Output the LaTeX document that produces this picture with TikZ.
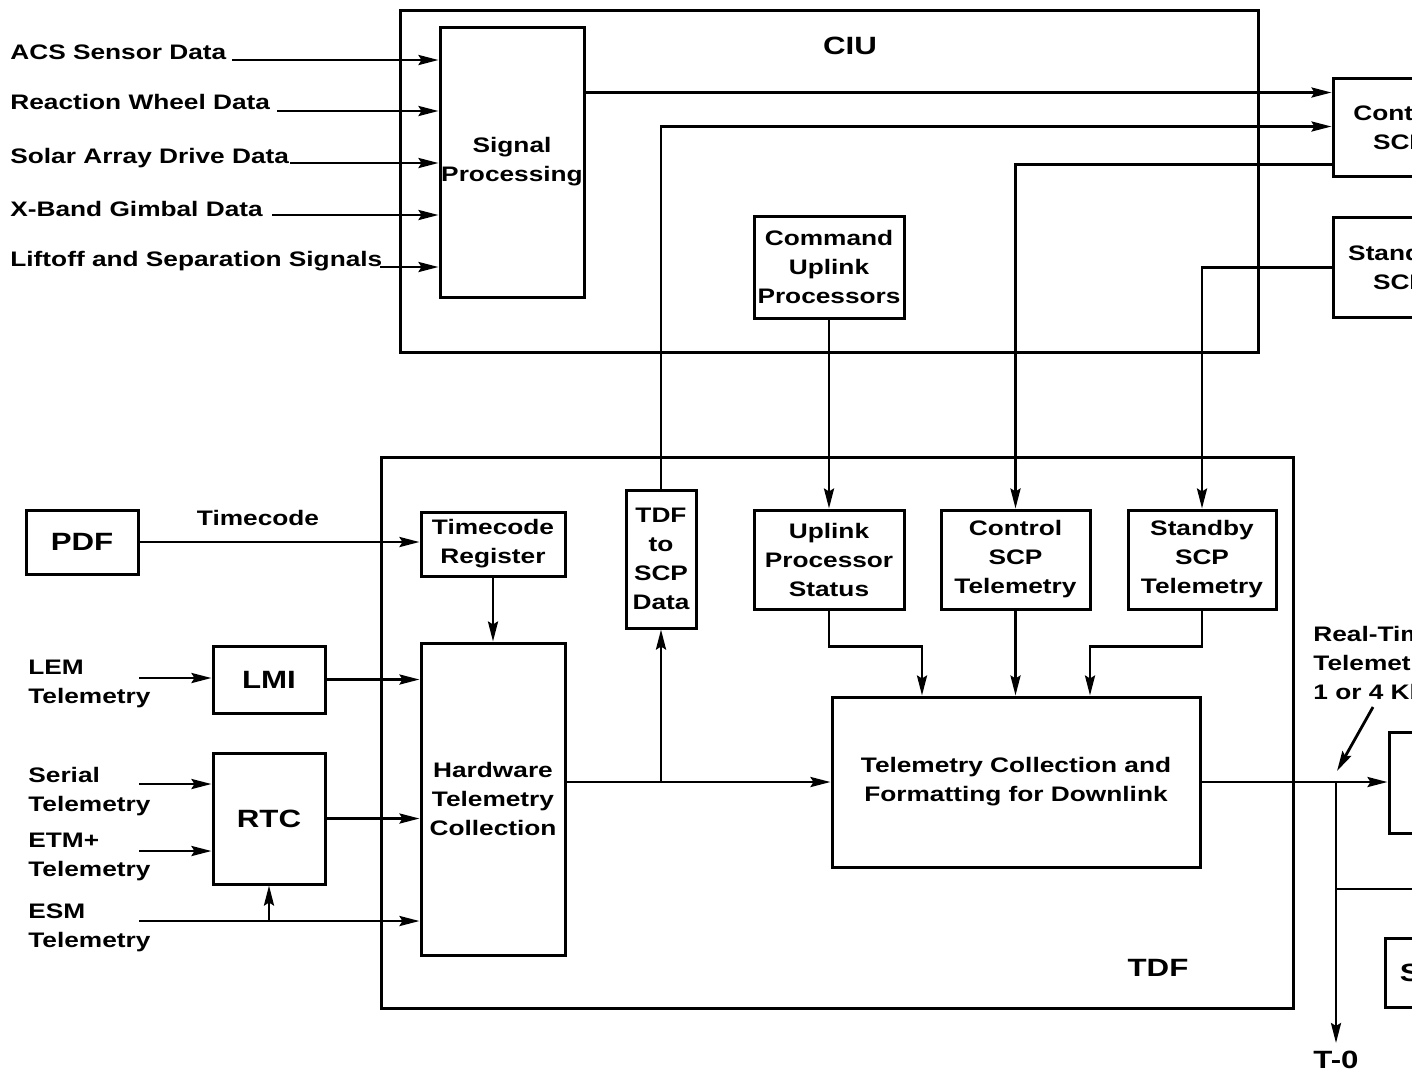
\documentclass[tikz,border=0pt]{standalone}
\usepackage{fontspec}
\setmainfont{Liberation Sans}[FakeStretch=1.25]
\usepackage{tikz}
\usetikzlibrary{arrows.meta}
\tikzstyle{block} = [rectangle, draw=black, line width=1.5pt, align=center, inner sep=0pt]
\tikzstyle{big} = [font=\bfseries\fontsize{12.5}{15}\selectfont]
\tikzstyle{sigtext} = [anchor=north west, align=left, inner sep=0pt]
\tikzstyle{intext} = [anchor=base west, inner sep=0pt]
\tikzstyle{arrow} = [line width=1.4pt,-{Stealth[length=10pt,width=5pt,inset=1.5pt]}]
\tikzstyle{wire} = [line width=1.4pt]

\begin{document}
\begin{tikzpicture}[x=0.5pt, y=-0.5pt, every node/.style={font=\bfseries\fontsize{10.5}{14.5}\selectfont}]

	\useasboundingbox (0,0) rectangle (1412,1084);
	\clip (0,0) rectangle (1412,1084);

	% CIU
	\node (ciu) [block, minimum width=429pt, minimum height=171pt] at (829,181) {};
	\node (ciutitle) [big] at (850,46) {CIU};
	\node (sigproc) [block, minimum width=72pt, minimum height=135pt] at (512,162) {Signal\\Processing};
	\node (cmdup) [block, minimum width=75pt, minimum height=51pt] at (829,267) {Command\\Uplink\\Processors};
	\node (ctrlscp) [block, minimum width=67pt, minimum height=49pt] at (1400,127) {Control\\SCP};
	\node (stbyscp) [block, minimum width=67pt, minimum height=50pt] at (1400,267.5) {Standby\\SCP};

	\node (acs) [intext] at (10,59) {ACS Sensor Data};
	\node (rwd) [intext] at (10,109) {Reaction Wheel Data};
	\node (sad) [intext] at (10,163) {Solar Array Drive Data};
	\node (xgd) [intext] at (10,216) {X-Band Gimbal Data};
	\node (lss) [intext] at (10,266) {Liftoff and Separation Signals};
	\coordinate (acsin) at (232,60);
	\coordinate (rwdin) at (277,111);
	\coordinate (sadin) at (290,163);
	\coordinate (xgdin) at (272,215);
	\coordinate (lssin) at (380,267);
	\foreach \c in {acsin, rwdin, sadin, xgdin, lssin}
		\draw [arrow] (\c) -- (\c -| sigproc.west);

	% TDF
	\node (tdf) [block, minimum width=456pt, minimum height=275.5pt] at (837,732.5) {};
	\node (tdftitle) [big] at (1158,968) {TDF};
	\node (tcreg) [block, minimum width=72pt, minimum height=32pt] at (493,544) {Timecode\\Register};
	\node (hwtc) [block, minimum width=72pt, minimum height=156pt] at (493,799) {Hardware\\Telemetry\\Collection};
	\node (tdf2scp) [block, minimum width=35pt, minimum height=69pt] at (661,559) {TDF\\to\\SCP\\Data};
	\node (upstat) [block, minimum width=75pt, minimum height=49.5pt] at (829,559.5) {Uplink\\Processor\\Status};
	\node (ctrltlm) [block, minimum width=74.5pt, minimum height=49.5pt] at (1015.5,559.5) {Control\\SCP\\Telemetry};
	\node (stbytlm) [block, minimum width=74pt, minimum height=49.5pt] at (1202,559.5) {Standby\\SCP\\Telemetry};
	\node (tcf) [block, minimum width=184pt, minimum height=85pt] at (1016,782) {Telemetry Collection and\\Formatting for Downlink};

	% sources
	\node (pdf) [block, big, minimum width=56pt, minimum height=32pt] at (82,542) {PDF};
	\node (timecode) [anchor=base, inner sep=0pt] at (258,525) {Timecode};
	\node (lmi) [block, big, minimum width=56pt, minimum height=33.5pt] at (269,679.5) {LMI};
	\node (rtc) [block, big, minimum width=56pt, minimum height=65.5pt] at (269,818.5) {RTC};
	\node (lem) [sigtext] at (28,660) {LEM\\Telemetry};
	\node (ser) [sigtext] at (28,767) {Serial\\Telemetry};
	\node (etm) [sigtext] at (28,833) {ETM+\\Telemetry};
	\node (esm) [sigtext] at (28,903) {ESM\\Telemetry};
	\coordinate (lemin) at (139,678);
	\coordinate (serin) at (139,784);
	\coordinate (etmin) at (139,851);
	\coordinate (esmin) at (139,921);

	% downlink side
	\node (xmit) [block, minimum width=66pt, minimum height=50.5pt] at (1455,782.5) {};
	\node (ssr) [block, big, minimum width=47pt, minimum height=34.5pt] at (1432,972.5) {SSR};
	\node (t0) [big, anchor=north, inner sep=0pt] at (1336,1051) {T-0};
	\node (rttext) [sigtext] at (1313,626) {Real-Time\\Telemetry\\1 or 4 Kbps};
	\coordinate (rttail) at (1373,707);
	\coordinate (rthead) at (1337,771);
	\coordinate (ssrfeed) at (1420,889);

	\coordinate (csin1) at ([yshift=-8pt]ctrlscp.north west);
	\coordinate (csin2) at ([yshift=-25pt]ctrlscp.north west);
	\coordinate (csout) at ([yshift=6.5pt]ctrlscp.south west);

	\draw [arrow] (sigproc.east |- csin1) -- (csin1);
	\draw [arrow] (tdf2scp.north) |- (csin2);
	\draw [arrow] (csout) -| (ctrltlm.north);
	\draw [arrow] (stbyscp.west) -| (stbytlm.north);
	\draw [arrow] (cmdup.south) -- (upstat.north);

	\draw [arrow] (pdf.east) -- (pdf.east -| tcreg.west);
	\draw [arrow] (tcreg.south) -- (hwtc.north);
	\draw [arrow] (lemin) -- (lemin -| lmi.west);
	\draw [arrow] (lmi.east) -- (lmi.east -| hwtc.west);
	\draw [arrow] (serin) -- (serin -| rtc.west);
	\draw [arrow] (etmin) -- (etmin -| rtc.west);
	\draw [arrow] (rtc.east) -- (rtc.east -| hwtc.west);
	\draw [arrow] (esmin) -- (esmin -| hwtc.west);
	\draw [arrow] (esmin -| rtc.south) -- (rtc.south);

	\draw [arrow] (hwtc.east |- tcf.west) -- (tcf.west);
	\draw [arrow] (tdf2scp.south |- tcf.west) -- (tdf2scp.south);
	\draw [arrow] (upstat.south) -- ++(0,36) -| ([xshift=-47pt]tcf.north);
	\draw [arrow] (ctrltlm.south) -- (ctrltlm.south |- tcf.north);
	\draw [arrow] (stbytlm.south) -- ++(0,36) -| ([xshift=37pt]tcf.north);

	\draw [arrow] (tcf.east) -- (tcf.east -| xmit.west);
	\draw [arrow] (tcf.east -| t0.north) -- ([yshift=4pt]t0.north);
	\draw [wire] (ssrfeed -| t0.north) -- (ssrfeed);
	\draw [arrow] (rttail) -- (rthead);

\end{tikzpicture}
\end{document}
